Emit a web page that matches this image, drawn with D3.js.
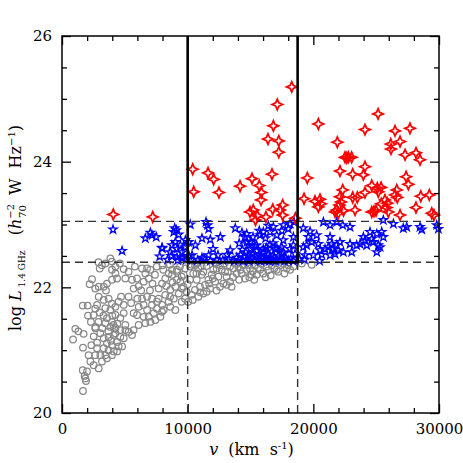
<!DOCTYPE html>
<html>
<head>
<meta charset="utf-8">
<script src="https://cdn.jsdelivr.net/npm/d3@7"></script>
<style>
  body { margin: 0; background: #fff; }
  svg { display: block; }
  .tick text { font-family: "DejaVu Serif", serif; font-size: 15px; fill: #000; }
  .lbl { font-family: "DejaVu Serif", serif; fill: #000; }
</style>
</head>
<body>
<svg id="chart" width="463" height="463"></svg>
<script>
// [velocity km/s, log L1.4GHz]
const greyPoints = [
  [1670,20.35],[1860,20.55],[1910,20.51],[1800,20.59],[1650,20.68],[1990,20.66],[880,21.17],[1060,21.34],
  [1720,21.26],[1670,21.04],[1650,21.71],[2040,21.71],[2070,21.55],[2390,22.13],[2650,21.37],[2520,21.22],
  [2340,21.08],[2120,20.92],[2260,20.82],[2520,20.76],[2920,20.71],[2650,20.92],[2790,21.03],[3050,20.92],
  [3180,20.82],[2790,21.12],[3050,21.27],[2650,21.35],[2520,21.56],[2650,21.66],[2790,21.72],[2920,21.85],
  [3320,21.80],[3710,21.82],[3980,21.74],[4250,21.69],[3850,21.64],[3450,21.67],[3580,21.51],[3980,21.45],
  [3450,21.43],[3850,21.37],[4250,21.35],[4110,21.24],[3710,21.21],[3320,21.19],[3580,21.11],[3980,21.08],
  [4380,21.13],[4640,21.21],[4510,21.06],[4110,20.98],[3710,21.00],[3320,21.03],[3450,20.92],[3580,20.87],
  [3980,20.92],[4380,20.98],[4780,21.06],[4910,21.19],[5040,21.32],[4640,21.32],[4250,21.27],[4640,21.51],
  [4910,21.59],[4910,21.72],[4510,21.77],[4250,21.56],
  [2650,21.98],[2920,22.01],[3320,22.01],[3580,22.06],[3980,22.12],[4380,22.14],[4250,22.22],[3980,22.28],
  [4250,22.33],[3180,22.35],[3450,22.38],[3980,22.41],[3850,22.46],[4910,22.29],[5040,22.14],[5570,22.12],
  [5970,22.14],[5700,21.98],[5700,21.59],[5970,21.56],[6100,21.40],[5700,21.32],[5310,21.29],[5570,21.24],
  [5040,21.40],[6370,22.30],[6770,22.30],[7030,22.28],[6630,22.22],[6900,22.14],[6500,22.09],
  [6100,21.69],[6500,21.72],[6770,21.64],[6900,21.53],[6500,21.53],[6630,21.43],[7030,21.45],[7430,21.48],
  [6370,21.82],[6770,21.85],[7160,21.82],[7560,21.77],[7160,21.72],[7560,21.66],[7960,21.72],[7960,21.61],
  [7830,21.53],[7300,21.59],[7690,21.98],[7960,22.06],[8220,22.14],[8490,22.22],[8760,22.20],[9150,22.12],
  [9020,22.01],[8620,21.96],[8220,21.88],[8490,21.77],[8890,21.82],[9290,21.90],[9550,21.98],[9420,22.09],
  [9680,22.20],[9150,22.28],[8760,22.28],[8620,21.69],[9020,21.64],[8090,21.64],[7690,21.82],
  [9520,22.17],[9660,22.01],[9920,21.93],[9790,21.82],[10050,21.77],[9520,21.77],
  [10190,22.33],[10580,22.35],[10850,22.30],[10450,22.22],[10190,22.12],[10720,22.12],[11110,22.20],[11250,22.25],
  [11380,22.04],[10980,22.01],[10580,21.96],[10320,21.88],[10850,21.85],[11250,21.90],[11510,21.93],[11780,21.98],
  [11650,22.12],[11910,22.20],[12040,22.28],[12310,22.30],[12570,22.35],[12710,22.28],[12440,22.17],[12180,22.09],
  [12570,22.01],[12840,22.06],[13100,22.04],[13500,22.01],[13370,22.09],[13100,22.17],[12970,22.25],[13370,22.33],
  [13640,22.30],[13900,22.22],[14030,22.33],[14430,22.35],[14700,22.28],[14300,22.22],[14560,22.14],[14960,22.30],
  [15360,22.35],[15760,22.28],[16020,22.22],[15490,22.20],[15090,22.20],[16290,22.33],[16690,22.35],[17080,22.28],
  [17880,22.30],[18150,22.28],[17350,22.35],[18410,22.33],[19080,22.38],[19870,22.36],
  [10320,22.36],[10720,22.38],[11120,22.33],[7540,22.33],[8060,22.28],[8590,22.36],[9130,22.25],[9390,22.33],
  [13200,22.25],[13800,22.38],[14200,22.28],[14800,22.36],[15200,22.26],[15600,22.31],[15900,22.37],[16400,22.27],
  [16900,22.30],[17200,22.25],[17600,22.37],[18000,22.35],[16600,22.19],[15300,22.12],[14100,22.12],[13600,22.16],
  [12200,22.38],[11500,22.34],[12900,22.38],[17700,22.22],[16200,22.16],[14900,22.16],
  [10000,22.05],[10400,21.80],[11000,21.92],[11700,22.06],[12300,21.95],[12000,22.14],[10700,22.22],[9800,22.30],
  [5300,22.25],[5800,22.33],[6100,22.02],[6300,21.95],[7200,22.06],[7400,22.20],[8000,22.35],[8300,22.02],
  [8800,22.08],[5300,21.85],[5500,21.75],[6000,21.82],[7000,21.95],[8600,21.85],
  [2900,21.45],[3200,21.35],[3700,21.30],[4000,21.55],[4400,21.42],[3000,21.60],[3500,21.95],[4700,21.85],
  [3300,21.55],[3900,21.15],[4100,21.40],[2300,21.45],[1300,21.30],[2200,22.05],[3000,22.30],[4600,22.38],
  [2900,22.40]
];

const bluePoints = [
  [4060,22.92],[4780,22.58],[6630,22.78],[7030,22.87],[7160,22.83],[7500,22.80],[7960,22.63],[7770,22.49],
  [7980,22.62],[8970,22.94],[9100,22.91],[9290,22.84],[8890,22.88],[8750,22.67],[9020,22.72],[8620,22.56],
  [9150,22.61],[9420,22.67],[9550,22.56],[9150,22.48],[9550,22.46],[9820,22.75],[9820,22.64],
  [8400,22.44],[8700,22.50],[9200,22.43],[9600,22.47],[9900,22.44],[10100,22.50],
  [10210,23.00],[11460,23.04],[11590,22.99],[11670,22.93],[11140,22.78],[11800,22.76],[12600,22.80],[10610,22.67],
  [10080,22.72],[12020,22.61],[12410,22.51],[11670,22.51],[11140,22.47],[10350,22.51],[13130,22.52],[13390,22.59],
  [13790,22.94],[14320,22.87],[14540,22.80],[14720,22.72],[14850,22.67],
  [14700,22.85],[15200,22.80],[15700,22.90],[16200,22.78],[17500,22.90],[18000,22.93],[14100,22.70],[15000,22.72],[16800,22.70],
  [16420,22.98],[16820,22.96],[16020,22.88],[16550,22.88],[15760,22.83],[17610,22.99],[18140,23.01],[18460,23.04],
  [17090,22.83],[17610,22.75],[18410,22.80],[15490,22.67],[16020,22.61],[16550,22.67],[16950,22.61],[17480,22.64],
  [17610,22.56],[18140,22.61],[18410,22.67],[18540,22.53],
  [13700,22.42],[13900,22.47],[14100,22.44],[14200,22.52],[14400,22.42],[14500,22.48],[14600,22.56],[14700,22.44],
  [14800,22.50],[14900,22.42],[15000,22.61],[15100,22.46],[15200,22.53],[15300,22.43],[15400,22.49],[15500,22.58],
  [15600,22.44],[15700,22.51],[15800,22.42],[15900,22.47],[16000,22.55],[16100,22.43],[16200,22.49],[16300,22.44],
  [16400,22.52],[16500,22.42],[16600,22.46],[16700,22.57],[16800,22.43],[16900,22.48],[17000,22.42],[17200,22.50],
  [17400,22.44],[17500,22.54],[17700,22.42],[17800,22.47],[18000,22.43],[18200,22.45],[18400,22.42],[13300,22.45],
  [12800,22.43],[12300,22.44],[11800,22.42],[11300,22.46],[10800,22.43],[10300,22.44],[15350,22.66],[16250,22.63],
  [14350,22.60],[17100,22.62],
  [19200,22.94],[19740,22.89],[19600,22.80],[20270,22.83],[19870,22.72],[19470,22.67],[20400,22.69],[20530,22.59],
  [20670,22.52],[20000,22.51],[19340,22.51],[19200,22.64],[18900,22.45],[19300,22.44],[20500,22.42],
  [21330,22.80],[21460,22.69],[21590,22.61],[21190,22.64],[21860,22.67],[22120,22.72],[21990,22.59],[22390,22.56],
  [21730,22.53],[21330,22.51],[20930,22.61],[21860,23.04],[22340,22.99],[22920,22.96],[23050,22.56],
  [22920,22.69],[23450,22.67],[23720,22.69],[24110,22.75],[24250,22.67],[23980,22.80],[24650,22.77],[25050,22.85],
  [25440,22.88],[24510,22.88],[24770,22.72],[25170,22.67],[25570,22.80],[25570,23.07],[26370,23.01],[27160,22.94],
  [27430,22.96],[28490,22.96],[28630,22.92],[29820,22.99],[29950,22.93],[20800,23.04],[21330,22.99],[25310,22.64],
  [25050,22.56]
];

const redPoints = [
  [4080,23.16],[7220,23.12],
  [18280,25.19],[17130,24.91],[16820,24.57],[16390,24.36],[17250,24.33],[17250,24.15],
  [10400,23.88],[11620,23.82],[12070,23.72],[10480,23.52],[12490,23.51],[14170,23.61],[15120,23.73],[16710,23.80],
  [15700,23.62],[15860,23.51],[15840,23.39],[19520,23.74],[19260,23.41],
  [14960,23.20],[15220,23.23],[15540,23.14],[16770,23.24],[17560,23.31],[17350,23.23],[17560,23.15],[16230,23.12],
  [18570,23.10],[15400,23.07],
  [25150,24.76],[20400,24.60],[24110,24.51],[26500,24.49],[27690,24.53],[21910,24.31],[26900,24.32],[26160,24.28],
  [26180,24.20],[28170,24.14],[28490,24.03],[27300,24.11],[22520,24.07],[22790,24.07],[23050,24.07],[22650,24.06],
  [24110,23.92],[22120,23.85],[23130,23.80],[23980,23.79],[27380,23.76],[27560,23.64],[24650,23.62],[25090,23.58],
  [25390,23.59],[25170,23.52],[22340,23.55],[22120,23.44],[24110,23.51],[26640,23.55],[26500,23.47],[26680,23.43],
  [20130,23.37],[20530,23.40],[20400,23.28],[23130,23.43],[23500,23.43],[25700,23.39],[25890,23.34],[28550,23.45],
  [29230,23.47],[22200,23.36],[22070,23.31],[21860,23.23],[21730,23.20],[21990,23.18],[23320,23.23],[24650,23.20],
  [24830,23.21],[24990,23.22],[25970,23.20],[28170,23.27],[26900,23.15],[29420,23.18],[29600,23.15],[22400,23.22],
  [20600,23.33],[25840,23.27],[25410,23.33]
];

const xMajorTicks = [0, 10000, 20000, 30000];
const yMajorTicks = [20, 22, 24, 26];
const upperCut = 23.05;   // dashed horizontal
const lowerCut = 22.4;    // dashed horizontal / box bottom
const boxLeft = 10000;
const boxRight = 18750;

const svg = d3.select("#chart");
const mLeft = 62, mRight = 439, mTop = 36, mBottom = 413;

const x = d3.scaleLinear().domain([0, 30000]).range([mLeft, mRight]);
const y = d3.scaleLinear().domain([20, 26]).range([mBottom, mTop]);

const xMinor = d3.range(0, 30001, 2000).filter(d => d % 10000 !== 0);
const yMinor = d3.range(20, 26.01, 0.5).filter(d => d % 2 !== 0);

// axes: ticks point inward on all four sides
function addAxis(axisFn, scale, ticks, size, transform, labels) {
  const g = svg.append("g")
    .attr("transform", transform)
    .call(axisFn(scale).tickValues(ticks).tickSize(-size).tickSizeOuter(0).tickPadding(10)
      .tickFormat(labels ? d3.format("d") : ""));
  g.select(".domain").remove();
  g.selectAll(".tick line").attr("stroke", "#000").attr("stroke-width", 1.3);
  return g;
}
addAxis(d3.axisBottom, x, xMajorTicks, 9, `translate(0,${mBottom})`, true);
addAxis(d3.axisBottom, x, xMinor, 5, `translate(0,${mBottom})`, false);
addAxis(d3.axisTop, x, xMajorTicks, 9, `translate(0,${mTop})`, false);
addAxis(d3.axisTop, x, xMinor, 5, `translate(0,${mTop})`, false);
addAxis(d3.axisLeft, y, yMajorTicks, 9, `translate(${mLeft},0)`, true);
addAxis(d3.axisLeft, y, yMinor, 5, `translate(${mLeft},0)`, false);
addAxis(d3.axisRight, y, yMajorTicks, 9, `translate(${mRight},0)`, false);
addAxis(d3.axisRight, y, yMinor, 5, `translate(${mRight},0)`, false);

// points
const marks = svg.append("g");

marks.selectAll("circle.grey")
  .data(greyPoints)
  .enter()
  .append("circle")
  .attr("class", "grey")
  .attr("cx", d => x(d[0]))
  .attr("cy", d => y(d[1]))
  .attr("r", 3.3)
  .attr("fill", "none")
  .attr("stroke", "#888")
  .attr("stroke-width", 1.25);

const star = d3.symbol().type(d3.symbolStar).size(21);
marks.selectAll("path.blue")
  .data(bluePoints)
  .enter()
  .append("path")
  .attr("class", "blue")
  .attr("d", star)
  .attr("transform", d => `translate(${x(d[0])},${y(d[1])})`)
  .attr("fill", "none")
  .attr("stroke", "#0000ff")
  .attr("stroke-width", 1.3);

// four-pointed star
function fourStar(r) {
  const k = r * 0.3;
  return `M0,${-r}L${k},${-k}L${r},0L${k},${k}L0,${r}L${-k},${k}L${-r},0L${-k},${-k}Z`;
}
marks.selectAll("path.red")
  .data(redPoints)
  .enter()
  .append("path")
  .attr("class", "red")
  .attr("d", fourStar(5.3))
  .attr("transform", d => `translate(${x(d[0])},${y(d[1])})`)
  .attr("fill", "none")
  .attr("stroke", "#ff0000")
  .attr("stroke-width", 1.7);

// selection lines
const lines = svg.append("g");
const dashed = [
  [0, upperCut, 30000, upperCut],
  [0, lowerCut, 30000, lowerCut],
  [boxLeft, 20, boxLeft, lowerCut],
  [boxRight, 20, boxRight, lowerCut]
];
lines.selectAll("line.dash")
  .data(dashed)
  .enter()
  .append("line")
  .attr("x1", d => x(d[0])).attr("y1", d => y(d[1]))
  .attr("x2", d => x(d[2])).attr("y2", d => y(d[3]))
  .attr("stroke", "#333")
  .attr("stroke-width", 1.4)
  .attr("stroke-dasharray", "8,5");

lines.append("path")
  .attr("d", `M${x(boxLeft)},${y(26)}V${y(lowerCut)}H${x(boxRight)}V${y(26)}`)
  .attr("fill", "none")
  .attr("stroke", "#000")
  .attr("stroke-width", 2.6);

// frame
svg.append("rect")
  .attr("x", mLeft).attr("y", mTop)
  .attr("width", mRight - mLeft).attr("height", mBottom - mTop)
  .attr("fill", "none")
  .attr("stroke", "#000")
  .attr("stroke-width", 1.5);

// x label
const xl = svg.append("text")
  .attr("class", "lbl")
  .attr("x", (mLeft + mRight) / 2 + 1)
  .attr("y", 455)
  .attr("text-anchor", "middle")
  .attr("font-size", 16)
  .attr("xml:space", "preserve");
xl.append("tspan").attr("font-style", "italic").text("v");
xl.append("tspan").text("  (km  s");
xl.append("tspan").attr("font-size", 10).attr("dy", -6).text("-1");
xl.append("tspan").attr("dy", 6).text(")");

// y label
const yl = svg.append("text")
  .attr("class", "lbl")
  .attr("transform", "translate(21,228) rotate(-90)")
  .attr("text-anchor", "middle")
  .attr("font-size", 16)
  .attr("xml:space", "preserve");
yl.append("tspan").text("log ");
yl.append("tspan").attr("font-style", "italic").text("L");
yl.append("tspan").attr("font-size", 9).attr("dy", 4).text(" 1.4 GHz");
yl.append("tspan").attr("dy", -4).text("   (");
yl.append("tspan").attr("font-style", "italic").text("h");
yl.append("tspan").attr("font-size", 10).attr("dy", -7).text("−2");
yl.append("tspan").attr("font-size", 10).attr("dx", -14).attr("dy", 12).text("70");
yl.append("tspan").attr("dy", -5).text("  W  Hz");
yl.append("tspan").attr("font-size", 10).attr("dy", -6).text("−1");
yl.append("tspan").attr("dy", 6).text(")");
</script>
</body>
</html>
